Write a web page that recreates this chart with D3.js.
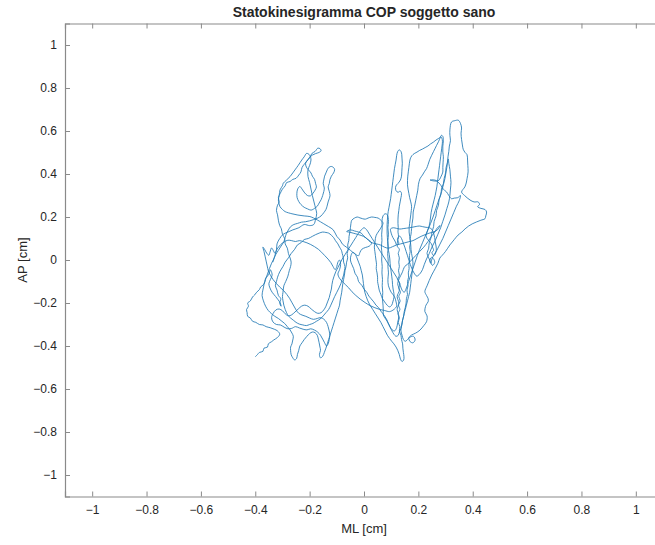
<!DOCTYPE html>
<html>
<head>
<meta charset="utf-8">
<script src="https://cdn.jsdelivr.net/npm/d3@7"></script>
<style>
  body { margin: 0; background: #fff; overflow: hidden; }
  text { font-family: "Liberation Sans", Arial, Helvetica, sans-serif; fill: #262626; }
</style>
</head>
<body>
<div class="dataviz"><svg></svg></div>
<script>
// traiettoria del COP, coppie [ML, AP] in cm (in ordine)
var tratto1 = [[-0.40,-0.45],[-0.392,-0.44],[-0.385,-0.43],[-0.372,-0.425],[-0.368,-0.41],[-0.355,-0.405],[-0.352,-0.39],[-0.34,-0.38],[-0.332,-0.372],[-0.318,-0.36],[-0.31,-0.345],[-0.318,-0.33],[-0.33,-0.322],[-0.345,-0.315],[-0.36,-0.31],[-0.372,-0.302],[-0.385,-0.30],[-0.398,-0.29],[-0.41,-0.285],[-0.418,-0.27],[-0.428,-0.262],[-0.43,-0.245],[-0.432,-0.23],[-0.425,-0.215],[-0.428,-0.20],[-0.418,-0.19],[-0.41,-0.172],[-0.402,-0.162],[-0.395,-0.15],[-0.385,-0.138],[-0.38,-0.125],[-0.37,-0.115],[-0.365,-0.10],[-0.362,-0.085],[-0.355,-0.075],[-0.348,-0.06],[-0.345,-0.045],[-0.342,-0.05],[-0.338,-0.07],[-0.344,-0.09],[-0.35,-0.11],[-0.346,-0.13],[-0.338,-0.15],[-0.325,-0.17],[-0.316,-0.185],[-0.308,-0.20],[-0.305,-0.215],[-0.31,-0.20],[-0.306,-0.18],[-0.315,-0.165],[-0.32,-0.14],[-0.326,-0.12],[-0.322,-0.10],[-0.318,-0.08],[-0.31,-0.055],[-0.298,-0.03],[-0.29,-0.01],[-0.278,0.01],[-0.268,0.03],[-0.255,0.05],[-0.245,0.07],[-0.232,0.08],[-0.22,0.095],[-0.205,0.10],[-0.19,0.11],[-0.178,0.118],[-0.165,0.125],[-0.152,0.13],[-0.14,0.128],[-0.13,0.125],[-0.12,0.115],[-0.112,0.105],[-0.105,0.09],[-0.096,0.075],[-0.09,0.06],[-0.083,0.045],[-0.08,0.03],[-0.076,0.01],[-0.075,-0.01],[-0.07,-0.03],[-0.072,-0.05],[-0.075,-0.07],[-0.08,-0.09],[-0.085,-0.11],[-0.092,-0.13],[-0.10,-0.15],[-0.108,-0.17],[-0.115,-0.19],[-0.122,-0.21],[-0.13,-0.23],[-0.14,-0.245],[-0.15,-0.26],[-0.162,-0.275],[-0.175,-0.285],[-0.188,-0.295],[-0.20,-0.30],[-0.212,-0.305],[-0.225,-0.302],[-0.238,-0.298],[-0.25,-0.29],[-0.26,-0.28],[-0.27,-0.27],[-0.278,-0.26],[-0.285,-0.245],[-0.29,-0.23],[-0.295,-0.21],[-0.298,-0.19],[-0.30,-0.17],[-0.298,-0.15],[-0.295,-0.12],[-0.288,-0.10],[-0.28,-0.075],[-0.275,-0.05],[-0.27,-0.03],[-0.268,-0.01]];

var tratto2 = [[-0.272,0.01],[-0.278,0.03],[-0.282,0.055],[-0.29,0.075],[-0.292,0.10],[-0.30,0.12],[-0.304,0.145],[-0.31,0.16],[-0.315,0.185],[-0.318,0.21],[-0.322,0.23],[-0.318,0.255],[-0.312,0.27],[-0.315,0.29],[-0.308,0.31],[-0.30,0.33],[-0.29,0.345],[-0.285,0.36],[-0.272,0.365],[-0.262,0.375],[-0.25,0.38],[-0.24,0.395],[-0.232,0.41],[-0.228,0.43],[-0.22,0.445],[-0.21,0.46],[-0.20,0.475],[-0.192,0.495],[-0.18,0.505],[-0.17,0.52],[-0.162,0.518],[-0.158,0.508],[-0.166,0.50],[-0.178,0.495],[-0.19,0.488],[-0.20,0.478],[-0.208,0.465],[-0.215,0.45],[-0.212,0.432],[-0.205,0.42],[-0.195,0.405],[-0.19,0.39],[-0.182,0.375],[-0.178,0.355],[-0.175,0.34],[-0.18,0.325],[-0.188,0.31],[-0.198,0.298],[-0.208,0.30],[-0.218,0.312],[-0.228,0.33],[-0.236,0.342],[-0.244,0.33],[-0.247,0.31],[-0.246,0.29],[-0.24,0.272],[-0.232,0.258],[-0.22,0.245],[-0.208,0.238],[-0.195,0.232],[-0.182,0.24],[-0.172,0.25],[-0.165,0.265],[-0.158,0.28],[-0.152,0.30],[-0.148,0.318],[-0.146,0.335],[-0.15,0.355],[-0.148,0.372],[-0.145,0.39],[-0.14,0.405],[-0.135,0.42],[-0.128,0.432],[-0.12,0.435],[-0.112,0.43],[-0.108,0.42],[-0.112,0.405],[-0.12,0.39],[-0.125,0.375],[-0.128,0.355],[-0.132,0.34],[-0.128,0.32],[-0.125,0.30],[-0.128,0.285],[-0.132,0.27],[-0.136,0.25],[-0.14,0.235],[-0.148,0.22],[-0.158,0.205],[-0.17,0.195],[-0.185,0.188],[-0.20,0.182],[-0.215,0.178],[-0.23,0.176],[-0.245,0.17],[-0.258,0.165],[-0.27,0.155],[-0.278,0.14],[-0.285,0.125],[-0.29,0.105],[-0.295,0.085]];

var tratto3 = [[-0.305,0.065],[-0.315,0.045],[-0.325,0.025],[-0.332,0.005],[-0.34,-0.015],[-0.348,-0.04],[-0.355,-0.065],[-0.362,-0.09],[-0.368,-0.115],[-0.372,-0.14],[-0.375,-0.165],[-0.37,-0.19],[-0.362,-0.215],[-0.352,-0.235],[-0.34,-0.25],[-0.328,-0.262],[-0.315,-0.272],[-0.302,-0.285],[-0.292,-0.295],[-0.282,-0.31],[-0.272,-0.325],[-0.265,-0.34],[-0.26,-0.355],[-0.262,-0.372],[-0.265,-0.39],[-0.27,-0.405],[-0.27,-0.42],[-0.268,-0.44],[-0.262,-0.455],[-0.255,-0.465],[-0.248,-0.458],[-0.245,-0.44],[-0.24,-0.42],[-0.236,-0.40],[-0.228,-0.385],[-0.22,-0.37],[-0.21,-0.355],[-0.20,-0.342],[-0.19,-0.335],[-0.18,-0.338],[-0.172,-0.35],[-0.168,-0.368],[-0.165,-0.385],[-0.162,-0.405],[-0.16,-0.42],[-0.164,-0.44],[-0.16,-0.455],[-0.152,-0.448],[-0.146,-0.43],[-0.14,-0.41],[-0.135,-0.39],[-0.13,-0.37],[-0.125,-0.35],[-0.12,-0.33],[-0.115,-0.31],[-0.11,-0.29],[-0.105,-0.27],[-0.10,-0.25],[-0.095,-0.23],[-0.09,-0.21],[-0.088,-0.19],[-0.085,-0.17],[-0.082,-0.15],[-0.08,-0.13],[-0.078,-0.11],[-0.075,-0.09],[-0.072,-0.07],[-0.07,-0.05],[-0.066,-0.03],[-0.064,-0.01],[-0.06,0.01],[-0.062,0.03],[-0.058,0.05],[-0.06,0.07],[-0.056,0.09]];

var tratto4 = [[-0.055,0.11],[-0.052,0.13],[-0.05,0.15],[-0.048,0.17],[-0.045,0.185],[-0.035,0.195],[-0.025,0.20],[-0.015,0.196],[-0.005,0.192],[0.005,0.19],[0.015,0.195],[0.028,0.20],[0.04,0.198],[0.052,0.195],[0.062,0.185],[0.07,0.172],[0.066,0.158],[0.06,0.145],[0.052,0.13],[0.045,0.115],[0.042,0.10],[0.04,0.08],[0.038,0.06],[0.04,0.04],[0.042,0.02],[0.044,0.0],[0.046,-0.02],[0.045,-0.04],[0.048,-0.06],[0.05,-0.08],[0.05,-0.10],[0.053,-0.12],[0.056,-0.14],[0.062,-0.16],[0.068,-0.18],[0.076,-0.195],[0.085,-0.21],[0.094,-0.218],[0.102,-0.21],[0.106,-0.195],[0.11,-0.175],[0.11,-0.155],[0.107,-0.135],[0.105,-0.115],[0.104,-0.095],[0.102,-0.075],[0.10,-0.055],[0.098,-0.035],[0.096,-0.015],[0.095,0.005],[0.093,0.025],[0.09,0.045],[0.088,0.065],[0.087,0.085],[0.086,0.105],[0.085,0.125],[0.085,0.145],[0.085,0.165],[0.086,0.185],[0.087,0.205],[0.089,0.225],[0.092,0.245],[0.095,0.265],[0.098,0.285],[0.10,0.305],[0.102,0.325],[0.104,0.345],[0.106,0.365],[0.108,0.385],[0.11,0.405],[0.112,0.425],[0.115,0.445],[0.118,0.465],[0.12,0.485],[0.124,0.505],[0.13,0.512],[0.136,0.505],[0.139,0.49],[0.14,0.47],[0.141,0.45],[0.14,0.43],[0.139,0.41],[0.138,0.39],[0.134,0.372],[0.128,0.36],[0.12,0.35],[0.116,0.338],[0.118,0.322],[0.125,0.315],[0.133,0.32],[0.138,0.31],[0.136,0.29],[0.133,0.27],[0.13,0.25],[0.128,0.23],[0.126,0.21],[0.125,0.19],[0.125,0.17],[0.126,0.15],[0.125,0.13],[0.127,0.11],[0.123,0.095],[0.128,0.08],[0.122,0.065],[0.13,0.05],[0.126,0.03],[0.13,0.01],[0.128,-0.01],[0.13,-0.03],[0.127,-0.05],[0.13,-0.07],[0.125,-0.09],[0.132,-0.11],[0.128,-0.13],[0.134,-0.15],[0.128,-0.17],[0.133,-0.19],[0.127,-0.21],[0.132,-0.23],[0.125,-0.25],[0.13,-0.27],[0.126,-0.29],[0.132,-0.31],[0.13,-0.33],[0.136,-0.35],[0.138,-0.37],[0.142,-0.39],[0.143,-0.41],[0.145,-0.43],[0.147,-0.45],[0.146,-0.465],[0.14,-0.472],[0.134,-0.46],[0.13,-0.44],[0.124,-0.42],[0.118,-0.405],[0.11,-0.39],[0.102,-0.378],[0.094,-0.365],[0.086,-0.35],[0.078,-0.33],[0.07,-0.31],[0.062,-0.29],[0.052,-0.27],[0.042,-0.25],[0.032,-0.23],[0.022,-0.21],[0.014,-0.19],[0.008,-0.17],[0.003,-0.15],[0.0,-0.13],[-0.002,-0.11],[-0.004,-0.09],[-0.006,-0.07],[-0.01,-0.05],[-0.014,-0.03],[-0.02,-0.01],[-0.026,0.01],[-0.034,0.03],[-0.042,0.035],[-0.048,0.02],[-0.05,0.0]];

var tratto5 = [[-0.045,-0.02],[-0.038,-0.04],[-0.033,-0.062],[-0.024,-0.08],[-0.02,-0.10],[-0.008,-0.118],[0.0,-0.135],[0.01,-0.15],[0.018,-0.168],[0.026,-0.18],[0.036,-0.195],[0.044,-0.21],[0.054,-0.222],[0.062,-0.238],[0.07,-0.25],[0.078,-0.265],[0.085,-0.28],[0.09,-0.298],[0.097,-0.315],[0.103,-0.33],[0.11,-0.345],[0.118,-0.355],[0.126,-0.35],[0.13,-0.335],[0.136,-0.318],[0.14,-0.30],[0.142,-0.28],[0.146,-0.26],[0.148,-0.24],[0.152,-0.22],[0.155,-0.20],[0.156,-0.18],[0.16,-0.16],[0.158,-0.14],[0.162,-0.12],[0.16,-0.10],[0.164,-0.08],[0.163,-0.06],[0.166,-0.04],[0.165,-0.02],[0.168,0.0],[0.167,0.02],[0.17,0.04],[0.168,0.06],[0.171,0.08],[0.17,0.10],[0.173,0.12],[0.175,0.146],[0.177,0.17],[0.18,0.195],[0.181,0.223],[0.186,0.25],[0.19,0.275],[0.194,0.30],[0.198,0.325],[0.20,0.35],[0.206,0.378],[0.215,0.395],[0.222,0.41],[0.23,0.425],[0.236,0.445],[0.242,0.468],[0.249,0.487],[0.256,0.505],[0.262,0.52],[0.267,0.533],[0.274,0.55],[0.28,0.568],[0.285,0.58],[0.29,0.575],[0.292,0.555],[0.29,0.53],[0.29,0.502],[0.292,0.48],[0.291,0.455],[0.29,0.43],[0.29,0.409],[0.284,0.39],[0.278,0.375],[0.272,0.368],[0.26,0.372],[0.25,0.373],[0.243,0.372],[0.255,0.368],[0.268,0.366],[0.276,0.358],[0.284,0.345],[0.29,0.333],[0.298,0.322],[0.304,0.316],[0.312,0.30],[0.322,0.285],[0.332,0.288],[0.345,0.29],[0.355,0.30],[0.35,0.275],[0.34,0.25],[0.33,0.22],[0.32,0.19],[0.31,0.16],[0.30,0.13],[0.29,0.10],[0.278,0.07],[0.268,0.045],[0.258,0.025],[0.25,0.005],[0.246,-0.015],[0.242,-0.005],[0.248,0.012],[0.256,0.005],[0.26,-0.012],[0.252,-0.025],[0.245,-0.01]];

var tratto6 = [[0.238,0.01],[0.232,0.03],[0.238,0.055],[0.24,0.08],[0.247,0.105],[0.25,0.13],[0.256,0.155],[0.258,0.18],[0.265,0.205],[0.267,0.23],[0.274,0.255],[0.276,0.28],[0.283,0.305],[0.285,0.33],[0.292,0.355],[0.295,0.38],[0.30,0.405],[0.302,0.43],[0.307,0.455],[0.309,0.48],[0.312,0.505],[0.314,0.53],[0.318,0.555],[0.316,0.58],[0.316,0.605],[0.322,0.642],[0.334,0.648],[0.347,0.65],[0.355,0.635],[0.359,0.614],[0.357,0.59],[0.359,0.56],[0.362,0.535],[0.365,0.515],[0.372,0.50],[0.379,0.49],[0.381,0.465],[0.382,0.44],[0.383,0.41],[0.379,0.378],[0.376,0.358],[0.371,0.34],[0.359,0.316],[0.37,0.30],[0.39,0.279],[0.405,0.27],[0.42,0.27],[0.425,0.258],[0.418,0.248],[0.43,0.24],[0.445,0.235],[0.451,0.223],[0.448,0.205],[0.445,0.192],[0.43,0.185],[0.414,0.177],[0.398,0.168],[0.385,0.158],[0.372,0.145],[0.36,0.13],[0.346,0.116],[0.332,0.095],[0.316,0.07],[0.30,0.04],[0.288,0.022],[0.279,0.009],[0.272,-0.015],[0.262,-0.04],[0.249,-0.07],[0.24,-0.095],[0.232,-0.12],[0.224,-0.147],[0.23,-0.165],[0.236,-0.18],[0.236,-0.194],[0.228,-0.21],[0.224,-0.24],[0.232,-0.26],[0.23,-0.287],[0.22,-0.305],[0.206,-0.326],[0.19,-0.34],[0.175,-0.349],[0.165,-0.362],[0.17,-0.38],[0.18,-0.385],[0.188,-0.372],[0.182,-0.355],[0.168,-0.36],[0.152,-0.378],[0.145,-0.37]];

var tratto7 = [[0.14,-0.35],[0.136,-0.33],[0.137,-0.31],[0.14,-0.29],[0.144,-0.27],[0.148,-0.25],[0.152,-0.23],[0.156,-0.21],[0.16,-0.19],[0.164,-0.17],[0.168,-0.15],[0.17,-0.13],[0.172,-0.11],[0.174,-0.09],[0.176,-0.07],[0.178,-0.05],[0.18,-0.03],[0.18,-0.01],[0.178,0.01],[0.175,0.03],[0.173,0.05],[0.172,0.07],[0.17,0.09],[0.168,0.11],[0.166,0.13],[0.166,0.15],[0.168,0.17],[0.17,0.19],[0.172,0.21],[0.174,0.23],[0.175,0.25],[0.172,0.27],[0.168,0.29],[0.165,0.31],[0.162,0.33],[0.16,0.35],[0.16,0.37],[0.161,0.39],[0.163,0.41],[0.165,0.43],[0.167,0.45],[0.17,0.47],[0.176,0.485],[0.185,0.495],[0.195,0.502],[0.205,0.51],[0.215,0.516],[0.225,0.523],[0.235,0.53],[0.245,0.54],[0.255,0.548],[0.265,0.558],[0.275,0.566],[0.283,0.572],[0.288,0.56],[0.288,0.54],[0.286,0.52],[0.284,0.50],[0.282,0.48],[0.28,0.46],[0.278,0.44],[0.276,0.42],[0.274,0.40],[0.272,0.38],[0.27,0.36],[0.268,0.34],[0.265,0.32],[0.262,0.30],[0.258,0.28],[0.254,0.26],[0.25,0.24],[0.247,0.22],[0.245,0.20],[0.243,0.18],[0.24,0.16],[0.236,0.145],[0.232,0.13],[0.228,0.115],[0.232,0.10],[0.24,0.088],[0.248,0.075],[0.252,0.06],[0.256,0.045],[0.25,0.035],[0.256,0.02],[0.262,0.028],[0.266,0.045],[0.265,0.065],[0.262,0.085],[0.26,0.105],[0.256,0.125],[0.25,0.142],[0.24,0.15],[0.228,0.152],[0.216,0.155],[0.204,0.158],[0.192,0.156],[0.18,0.153],[0.168,0.15],[0.156,0.148],[0.144,0.146],[0.132,0.144],[0.12,0.147],[0.108,0.15],[0.098,0.145]];

var tratto8 = [[0.10,0.125],[0.106,0.105],[0.114,0.088],[0.12,0.07],[0.124,0.09],[0.13,0.112],[0.138,0.10],[0.144,0.08],[0.15,0.06],[0.155,0.04],[0.16,0.02],[0.165,0.0],[0.17,-0.02],[0.176,-0.04],[0.184,-0.06],[0.194,-0.075],[0.205,-0.065],[0.215,-0.045],[0.222,-0.02],[0.23,0.005],[0.24,0.03],[0.25,0.06],[0.262,0.09],[0.272,0.12],[0.282,0.15],[0.29,0.18],[0.298,0.21],[0.305,0.24],[0.312,0.27],[0.316,0.30],[0.318,0.33],[0.32,0.36],[0.318,0.39],[0.316,0.42],[0.312,0.45],[0.31,0.47],[0.306,0.44],[0.302,0.41],[0.298,0.38],[0.292,0.35],[0.286,0.32],[0.278,0.29],[0.27,0.26],[0.262,0.23],[0.254,0.20],[0.245,0.17],[0.235,0.14],[0.225,0.11],[0.215,0.08],[0.205,0.05],[0.196,0.02],[0.188,-0.01],[0.18,-0.04],[0.172,-0.07],[0.164,-0.10],[0.156,-0.13],[0.148,-0.15],[0.14,-0.14],[0.134,-0.12],[0.128,-0.10],[0.12,-0.08],[0.11,-0.06],[0.10,-0.04],[0.09,-0.02],[0.08,0.0],[0.07,0.02],[0.06,0.04],[0.05,0.06],[0.04,0.08],[0.03,0.10],[0.02,0.12],[0.01,0.14],[0.0,0.15],[-0.01,0.14],[-0.02,0.125],[-0.03,0.105],[-0.04,0.085],[-0.05,0.065],[-0.06,0.045],[-0.07,0.025],[-0.08,0.005],[-0.088,-0.015],[-0.096,-0.035],[-0.104,-0.055],[-0.11,-0.075],[-0.115,-0.095],[-0.118,-0.115],[-0.12,-0.135],[-0.124,-0.155],[-0.128,-0.175],[-0.134,-0.195],[-0.14,-0.215],[-0.148,-0.232],[-0.158,-0.245],[-0.17,-0.248],[-0.182,-0.24],[-0.194,-0.228],[-0.206,-0.215],[-0.218,-0.21],[-0.23,-0.215],[-0.242,-0.228],[-0.254,-0.242],[-0.266,-0.255],[-0.278,-0.26],[-0.29,-0.25],[-0.30,-0.236],[-0.312,-0.228],[-0.324,-0.232],[-0.334,-0.248],[-0.34,-0.268],[-0.335,-0.288],[-0.322,-0.30],[-0.308,-0.302],[-0.294,-0.312],[-0.28,-0.32],[-0.266,-0.318],[-0.252,-0.31],[-0.238,-0.316],[-0.224,-0.322],[-0.21,-0.325],[-0.196,-0.32],[-0.182,-0.326],[-0.17,-0.336],[-0.16,-0.35],[-0.152,-0.368],[-0.145,-0.385],[-0.138,-0.40],[-0.132,-0.39],[-0.128,-0.37],[-0.126,-0.35],[-0.128,-0.33],[-0.132,-0.31],[-0.138,-0.29],[-0.148,-0.275],[-0.16,-0.268],[-0.172,-0.272],[-0.186,-0.276],[-0.20,-0.27],[-0.214,-0.262],[-0.228,-0.256],[-0.24,-0.248],[-0.25,-0.232],[-0.258,-0.214],[-0.266,-0.196],[-0.274,-0.178],[-0.284,-0.16],[-0.296,-0.142],[-0.31,-0.126],[-0.322,-0.11],[-0.334,-0.092],[-0.344,-0.072],[-0.352,-0.05],[-0.356,-0.028],[-0.36,-0.005],[-0.364,0.018],[-0.368,0.04],[-0.372,0.06],[-0.366,0.05],[-0.358,0.032],[-0.35,0.022],[-0.346,0.036],[-0.34,0.056],[-0.334,0.045],[-0.328,0.032],[-0.32,0.05],[-0.308,0.07],[-0.294,0.084],[-0.28,0.092],[-0.266,0.09],[-0.252,0.086],[-0.238,0.09],[-0.224,0.086],[-0.21,0.08],[-0.196,0.072],[-0.182,0.062],[-0.168,0.05],[-0.156,0.036],[-0.144,0.02],[-0.132,0.004],[-0.122,-0.012],[-0.114,-0.03],[-0.106,-0.045],[-0.10,-0.03],[-0.096,-0.01],[-0.09,0.0],[-0.086,-0.02],[-0.09,-0.045],[-0.096,-0.065],[-0.09,-0.085],[-0.08,-0.10],[-0.068,-0.115],[-0.056,-0.13],[-0.044,-0.148],[-0.03,-0.165],[-0.014,-0.182],[0.004,-0.198],[0.022,-0.212],[0.04,-0.222],[0.058,-0.23],[0.076,-0.235],[0.094,-0.24],[0.11,-0.23],[0.12,-0.215]];

var tratto9 = [[0.118,-0.195],[0.112,-0.17],[0.10,-0.15],[0.09,-0.12],[0.088,-0.09],[0.09,-0.06],[0.088,-0.03],[0.089,0.0],[0.087,0.03],[0.089,0.06],[0.088,0.09],[0.09,0.12],[0.088,0.15],[0.09,0.18],[0.086,0.21],[0.078,0.215],[0.07,0.205],[0.066,0.18],[0.067,0.15],[0.065,0.12],[0.066,0.09],[0.064,0.06],[0.066,0.03],[0.065,0.0],[0.067,-0.03],[0.066,-0.06],[0.068,-0.09],[0.067,-0.12],[0.069,-0.15],[0.068,-0.18],[0.07,-0.21],[0.071,-0.235],[0.071,-0.256],[0.08,-0.275],[0.092,-0.30],[0.10,-0.32],[0.112,-0.33],[0.12,-0.315],[0.124,-0.29],[0.128,-0.26],[0.122,-0.23],[0.128,-0.20],[0.122,-0.17],[0.13,-0.14],[0.124,-0.11],[0.13,-0.085],[0.14,-0.06],[0.15,-0.03],[0.16,-0.02],[0.175,0.0],[0.19,0.02],[0.205,0.04],[0.22,0.06],[0.235,0.085],[0.248,0.11],[0.26,0.13],[0.27,0.15],[0.28,0.16],[0.27,0.14],[0.255,0.13],[0.24,0.125],[0.225,0.118],[0.21,0.11],[0.195,0.10],[0.18,0.09],[0.165,0.085],[0.15,0.08],[0.135,0.075],[0.12,0.07],[0.105,0.062],[0.09,0.055],[0.075,0.06],[0.06,0.07],[0.045,0.075],[0.03,0.08],[0.022,0.085],[0.01,0.10],[-0.002,0.11],[-0.02,0.118],[-0.04,0.125],[-0.055,0.13],[-0.064,0.132],[-0.05,0.14],[-0.035,0.135],[-0.02,0.13],[-0.01,0.125],[0.0,0.11],[0.015,0.095],[0.028,0.08],[0.02,0.065],[0.005,0.058],[-0.008,0.05],[-0.015,0.035],[-0.02,0.02]];

var tratto10 = [[-0.035,0.03],[-0.05,0.045],[-0.065,0.06],[-0.08,0.075],[-0.088,0.093],[-0.10,0.11],[-0.113,0.14],[-0.13,0.155],[-0.15,0.17],[-0.17,0.185],[-0.185,0.195],[-0.199,0.202],[-0.22,0.205],[-0.243,0.209],[-0.265,0.215],[-0.29,0.225],[-0.30,0.235],[-0.309,0.248],[-0.313,0.265],[-0.315,0.279],[-0.312,0.30],[-0.309,0.326],[-0.30,0.345],[-0.297,0.357],[-0.285,0.372],[-0.272,0.388],[-0.262,0.405],[-0.254,0.419],[-0.242,0.44],[-0.229,0.465],[-0.22,0.48],[-0.211,0.496],[-0.20,0.488],[-0.195,0.465],[-0.20,0.44],[-0.206,0.42],[-0.206,0.388],[-0.20,0.36],[-0.195,0.33],[-0.19,0.30],[-0.184,0.27],[-0.178,0.24],[-0.174,0.217],[-0.178,0.19],[-0.185,0.165],[-0.20,0.16],[-0.22,0.165],[-0.24,0.15],[-0.262,0.14],[-0.28,0.13],[-0.297,0.12],[-0.31,0.10],[-0.32,0.075],[-0.322,0.047],[-0.328,0.02],[-0.335,-0.01]];

var xTicks = [-1,-0.8,-0.6,-0.4,-0.2,0,0.2,0.4,0.6,0.8,1];
var yTicks = [-1,-0.8,-0.6,-0.4,-0.2,0,0.2,0.4,0.6,0.8,1];

width = 655;
height = 545;
margin = { top: 23.5, right: -8, bottom: 48.5, left: 65 };

var data = [].concat(tratto1, tratto2, tratto3, tratto4, tratto5, tratto6, tratto7, tratto8, tratto9, tratto10)
  .map(d => ({ ml: d[0], ap: d[1] }));

x = d3.scaleLinear().domain([-1.1, 1.1]).range([margin.left, width - margin.right]);
y = d3.scaleLinear().domain([-1.1, 1.1]).range([height - margin.bottom, margin.top]);

svg = d3.select(".dataviz > svg")
  .attr("width", width)
  .attr("height", height)
  .attr("viewBox", [0, 0, width, height]);

var fmt = d3.format("");

// assi in stile matlab: tacche verso l'interno, box
xAxis = g => g.attr("transform", `translate(0,${height - margin.bottom})`)
  .call(d3.axisBottom(x).tickValues(xTicks).tickSize(-5).tickPadding(9).tickFormat(fmt));
yAxis = g => g.attr("transform", `translate(${margin.left},0)`)
  .call(d3.axisLeft(y).tickValues(yTicks).tickSize(-5).tickPadding(8).tickFormat(fmt));
xTop = g => g.attr("transform", `translate(0,${margin.top})`)
  .call(d3.axisTop(x).tickValues(xTicks).tickSize(-5).tickFormat(""));
yRight = g => g.attr("transform", `translate(${width - margin.right},0)`)
  .call(d3.axisRight(y).tickValues(yTicks).tickSize(-5).tickFormat(""));

[xAxis, yAxis, xTop, yRight].forEach((ax, i) => {
  var g = svg.append("g").attr("class", "axis a" + i).call(ax);
  g.selectAll(".domain").attr("stroke", "#8a8a8a").attr("stroke-width", 1.2);
  g.selectAll(".tick line").attr("stroke", "#8a8a8a");
  g.selectAll(".tick text").attr("font-size", 12).attr("fill", "#262626")
    .attr("font-family", "'Liberation Sans', Arial, sans-serif");
});

var line = d3.line()
  .x(d => x(d.ml))
  .y(d => y(d.ap))
  .curve(d3.curveCatmullRom.alpha(0.5));

svg.append("path")
  .datum(data)
  .attr("fill", "none")
  .attr("stroke", "#1f77b4")
  .attr("stroke-width", 0.85)
  .attr("stroke-linejoin", "round")
  .attr("d", line);

svg.append("text")
  .attr("x", (x(-1.1) + x(1.1)) / 2)
  .attr("y", 17)
  .attr("text-anchor", "middle")
  .attr("font-size", 14)
  .attr("font-weight", "bold")
  .text("Statokinesigramma COP soggetto sano");

svg.append("text")
  .attr("x", (x(-1.1) + x(1.1)) / 2)
  .attr("y", 533)
  .attr("text-anchor", "middle")
  .attr("font-size", 13)
  .text("ML [cm]");

svg.append("text")
  .attr("transform", `translate(27,${y(0)}) rotate(-90)`)
  .attr("text-anchor", "middle")
  .attr("font-size", 13)
  .text("AP [cm]");
</script>
</body>
</html>
